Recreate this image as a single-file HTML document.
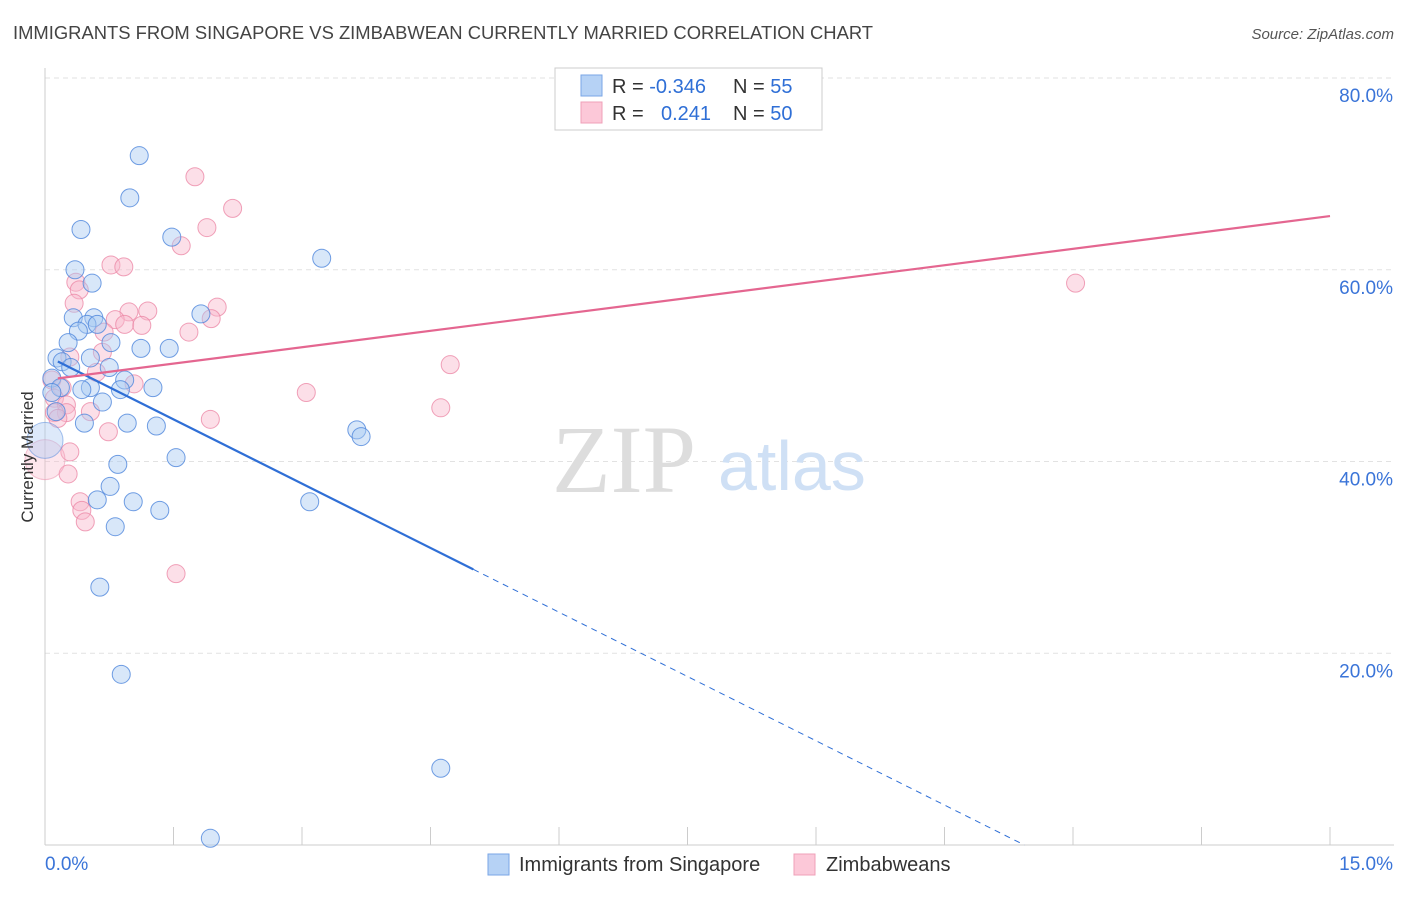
<!DOCTYPE html>
<html><head><meta charset="utf-8"><style>
body{margin:0;background:#fff;font-family:"Liberation Sans",sans-serif;}
svg text{font-family:"Liberation Sans",sans-serif;}
</style></head><body>
<svg id="chart" width="1406" height="892" xmlns="http://www.w3.org/2000/svg">
<text x="13" y="39" font-size="18.4" fill="#444">IMMIGRANTS FROM SINGAPORE VS ZIMBABWEAN CURRENTLY MARRIED CORRELATION CHART</text>
<text x="1394" y="39" font-size="15" fill="#555" text-anchor="end" font-style="italic">Source: ZipAtlas.com</text>
<g id="grid"></g>
<g id="axes"></g>
<text x="552" y="492" font-size="96" fill="#ddd" font-family="Liberation Serif" style="font-family:'Liberation Serif',serif">ZIP</text>
<text x="718" y="490" font-size="70" fill="#cfe0f5">atlas</text>
<g id="points"></g>
<g id="lines"></g>
<text transform="translate(33,457) rotate(-90)" font-size="17" fill="#333" text-anchor="middle">Currently Married</text>
<g>
<rect x="555" y="68" width="267" height="62" fill="#fff" stroke="#ccc"/>
<rect x="581" y="75" width="21" height="21" fill="#b6d2f5" stroke="#7aa6e6"/>
<rect x="581" y="102" width="21" height="21" fill="#fcc8d8" stroke="#efa0b8"/>
<text x="612" y="93" font-size="20" fill="#333">R = <tspan fill="#2f6fd6">-0.346</tspan></text>
<text x="733" y="93" font-size="20" fill="#333">N = <tspan fill="#2f6fd6"> 55</tspan></text>
<text x="612" y="120" font-size="20" fill="#333">R = <tspan fill="#2f6fd6" x="661">0.241</tspan></text>
<text x="733" y="120" font-size="20" fill="#333">N = <tspan fill="#2f6fd6">50</tspan></text>
</g>
<g>
<rect x="488" y="854" width="21" height="21" fill="#b6d2f5" stroke="#7aa6e6"/>
<text x="519" y="871" font-size="20" fill="#333">Immigrants from Singapore</text>
<rect x="794" y="854" width="21" height="21" fill="#fcc8d8" stroke="#efa0b8"/>
<text x="826" y="871" font-size="20" fill="#333">Zimbabweans</text>
</g>
</svg>
<script>
const yTicks=[20,40,60,80];
const yTickLabels=["20.0%","40.0%","60.0%","80.0%"];
const xTickCount=10;
const xLabels=["0.0%","15.0%"];
const singX=[1.10,0.99,0.42,1.48,3.23,0.35,0.55,0.33,1.82,0.57,0.49,0.61,0.39,0.27,0.77,1.12,1.45,0.14,0.53,0.20,0.30,0.75,0.08,0.93,0.18,0.53,0.88,1.26,0.43,0.08,0.67,0.13,0.46,0.96,1.30,3.64,3.69,1.53,0.85,0.76,0.61,1.03,3.09,1.34,0.82,0.64,0.89,4.62,1.93];
const singY=[71.9,67.5,64.2,63.4,61.2,60.0,58.6,55.0,55.4,55.0,54.3,54.3,53.6,52.4,52.4,51.8,51.8,50.8,50.8,50.4,49.8,49.8,48.7,48.5,47.7,47.7,47.5,47.7,47.5,47.2,46.2,45.2,44.0,44.0,43.7,43.3,42.6,40.4,39.7,37.4,36.0,35.8,35.8,34.9,33.2,26.9,17.8,8.0,0.7];
const zimX=[1.75,2.19,1.89,1.59,0.77,0.92,0.36,0.40,0.34,12.03,2.01,0.98,1.20,1.94,0.82,0.93,1.13,1.68,0.69,0.67,0.29,4.73,0.60,0.08,1.04,3.05,0.20,0.11,0.25,4.62,0.53,0.25,0.11,0.15,1.93,0.74,0.29,0.27,0.41,0.43,0.47,1.53];
const zimY=[69.7,66.4,64.4,62.5,60.5,60.3,58.7,57.9,56.5,58.6,56.1,55.6,55.7,54.9,54.8,54.3,54.2,53.5,53.5,51.4,50.9,50.1,49.3,48.5,48.1,47.2,47.7,46.6,45.9,45.6,45.2,45.1,45.1,44.5,44.4,43.1,41.0,38.7,35.8,34.9,33.7,28.3];
const singTrend=[51.1,-4.47];
const zimTrend=[48.5,1.14];
const NS="http://www.w3.org/2000/svg";
const X0=45,X1=1330,Y0=845,YT=78;
const sx=v=>X0+v/15*(X1-X0);
const sy=v=>Y0-v/80*(Y0-YT);
function mk(tag,attrs,parent){const e=document.createElementNS(NS,tag);for(const k in attrs)e.setAttribute(k,attrs[k]);document.getElementById(parent).appendChild(e);return e;}
yTicks.forEach((t,i)=>{
 const g=mk('line',{x1:X0,x2:1394,y1:sy(t),y2:sy(t),stroke:'#e2e2e2','stroke-dasharray':'5,4'},'grid');
 
 
 const tx=mk('text',{x:1393,y:sy(t)+24,'font-size':19,fill:'#3a74d8','text-anchor':'end'},'axes');
 tx.textContent=yTickLabels[i];
 
 
});
const ax=mk('line',{x1:X0,x2:X0,y1:68,y2:Y0,stroke:'#ccc'},'axes');


const bx=mk('line',{x1:X0,x2:1394,y1:Y0,y2:Y0,stroke:'#ccc'},'axes');


for(let i=0;i<=xTickCount;i++){
 const t=mk('line',{x1:sx(i*1.5),x2:sx(i*1.5),y1:827,y2:Y0,stroke:'#ccc'},'axes');
 
 
}
const xl0=mk('text',{x:45,y:870,'font-size':19,fill:'#3a74d8'},'axes');xl0.textContent=xLabels[0];


const xl1=mk('text',{x:1393,y:870,'font-size':19,fill:'#3a74d8','text-anchor':'end'},'axes');xl1.textContent=xLabels[1];


function pts(xs,ys,fill,stroke,name){xs.forEach((x,i)=>{
 const c=mk('circle',{cx:sx(x),cy:sy(ys[i]),r:9,fill:fill,'fill-opacity':0.45,stroke:stroke,'stroke-opacity':0.8,'stroke-width':1},'points');
 
 
});}
pts(zimX,zimY,'#f9b8cc','#ec8aa8','zimbabwean-point');
pts(singX,singY,'#a9c9f2','#4d86dc','singapore-point');
const big1=mk('circle',{cx:sx(0),cy:sy(40.2),r:20,fill:'#f9b8cc','fill-opacity':0.35,stroke:'#ec8aa8','stroke-opacity':0.5},'points');


const big2=mk('circle',{cx:sx(0),cy:sy(42.2),r:18,fill:'#a9c9f2','fill-opacity':0.4,stroke:'#4d86dc','stroke-opacity':0.5},'points');


const f=(tr,x)=>tr[0]+tr[1]*x;
const l1=mk('line',{x1:sx(0.15),y1:sy(f(singTrend,0.15)),x2:sx(5.0),y2:sy(f(singTrend,5.0)),stroke:'#2f6fd6','stroke-width':2.2},'lines');


const xEnd=-singTrend[0]/singTrend[1];
const l2=mk('line',{x1:sx(5.0),y1:sy(f(singTrend,5.0)),x2:sx(xEnd),y2:sy(0),stroke:'#2f6fd6','stroke-width':1,'stroke-dasharray':'6,5'},'lines');


const l3=mk('line',{x1:sx(0.15),y1:sy(f(zimTrend,0.15)),x2:sx(15),y2:sy(f(zimTrend,15)),stroke:'#e46690','stroke-width':2.2},'lines');


</script>
</body></html>
